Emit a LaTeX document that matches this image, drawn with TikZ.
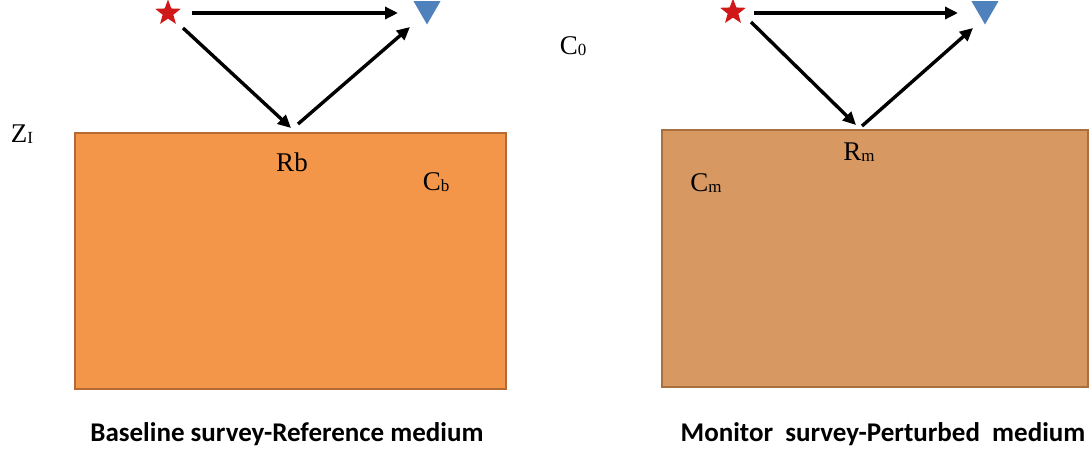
\documentclass[tikz,border=0pt]{standalone}
\usepackage{fontspec}
\setmainfont{Liberation Serif}
\newfontfamily\capfont{Carlito}
\usetikzlibrary{shapes.geometric,arrows.meta}
\definecolor{baseorange}{HTML}{F4964A}
\definecolor{baseedge}{HTML}{B46A32}
\definecolor{montan}{HTML}{D89862}
\definecolor{monedge}{HTML}{A8703F}
\definecolor{rxblue}{HTML}{4F81BD}
\definecolor{srcred}{HTML}{D01818}
\tikzset{
  medium/.style={draw, line width=2.4pt},
  src/.style={star, star points=5, star point ratio=2.4, fill=srcred, draw=none, minimum size=27pt, inner sep=0pt},
  rx/.style={regular polygon, regular polygon sides=3, shape border rotate=180, fill=rxblue, draw=none, minimum size=31pt, inner sep=0pt},
  ray/.style={line width=3.4pt, -{Triangle[length=13pt,width=12pt]}},
  lbl/.style={font=\fontsize{27}{29}\selectfont, inner sep=0pt},
  captext/.style={font=\capfont\bfseries\fontsize{27}{30}\selectfont, inner sep=0pt},
}
\newcommand{\sub}[1]{\raisebox{-1.5pt}{\fontsize{17}{18}\selectfont #1}}
\begin{document}
\begin{tikzpicture}[x=1pt,y=-1pt]
\useasboundingbox (0,0) rectangle (1092,452);
% boxes
\node[medium, draw=baseedge, fill=baseorange, minimum width=431pt, minimum height=256pt, inner sep=0pt] (boxb) at (290.5,261) {};
\node[medium, draw=monedge, fill=montan, minimum width=426pt, minimum height=257pt, inner sep=0pt] (boxm) at (875,258.5) {};
% left survey
\node[src] (s1) at (168,13) {};
\node[rx] (r1) at (427,9) {};
\coordinate (a1) at (192,13);
\coordinate (a2) at (398,13);
\coordinate (d1) at (183,28);
\coordinate (b1) at (291,128);
\coordinate (c1) at (298,124);
\coordinate (u1) at (410,27);
\draw[ray] (a1) -- (a2);
\draw[ray] (d1) -- (b1);
\draw[ray] (c1) -- (u1);
% right survey
\node[src] (s2) at (733,12) {};
\node[rx] (r2) at (985,9) {};
\coordinate (a3) at (754,13);
\coordinate (a4) at (958,13);
\coordinate (d2) at (751,22);
\coordinate (b2) at (856,125);
\coordinate (c2) at (862,126);
\coordinate (u2) at (973,28);
\draw[ray] (a3) -- (a4);
\draw[ray] (d2) -- (b2);
\draw[ray] (c2) -- (u2);
% labels
\node[lbl] (zi) at (22,134) {Z\sub{I}};
\node[lbl] (rb) at (292,162) {Rb};
\node[lbl] (cb) at (436,182) {C\sub{b}};
\node[lbl] (c0) at (573,46) {C\sub{0}};
\node[lbl] (rm) at (859,152) {R\sub{m}};
\node[lbl] (cm) at (706,183) {C\sub{m}};
\node[captext] (capb) at (287,434) {Baseline survey-Reference medium};
\node[captext] (capm) at (883,434) {Monitor\ \ survey-Perturbed\ \ medium};
\end{tikzpicture}
\end{document}
